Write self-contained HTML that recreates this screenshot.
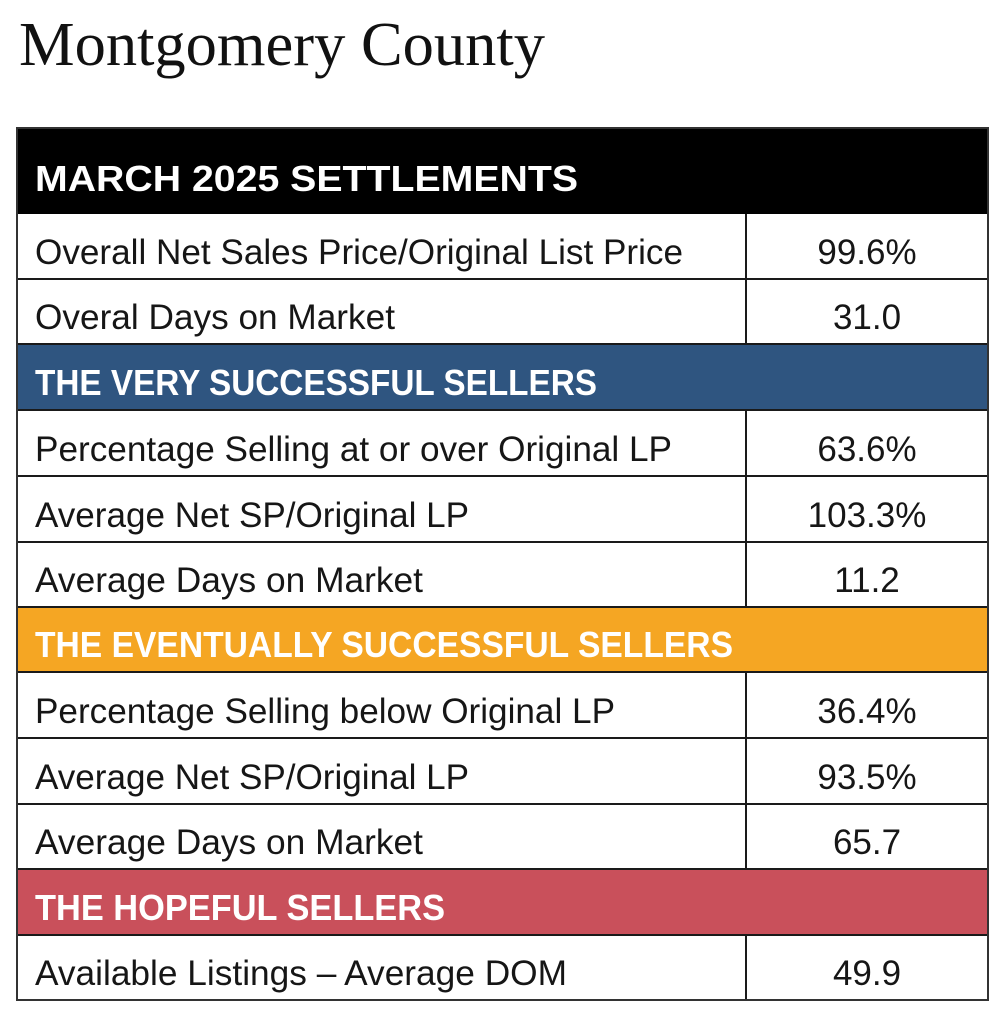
<!DOCTYPE html>
<html>
<head>
<meta charset="utf-8">
<style>
html,body{margin:0;padding:0;background:#fff;}
svg{display:block;}
.t{font-family:"Liberation Sans",Arial,sans-serif;font-size:35px;fill:#161616;}
.h{font-family:"Liberation Sans",Arial,sans-serif;font-size:36px;font-weight:bold;fill:#fff;}
.v{font-family:"Liberation Sans",Arial,sans-serif;font-size:35px;fill:#161616;text-anchor:middle;}
</style>
</head>
<body>
<svg width="1007" height="1024" viewBox="0 0 1007 1024" xmlns="http://www.w3.org/2000/svg">
<rect width="1007" height="1024" fill="#fff"/>
<text x="19" y="65" font-family="'Liberation Serif',Times,serif" font-size="62" fill="#111" textLength="526" lengthAdjust="spacingAndGlyphs">Montgomery County</text>

<!-- backgrounds -->
<rect x="17" y="128" width="971" height="86" fill="#000"/>
<rect x="17" y="344" width="971" height="66" fill="#2f5580"/>
<rect x="17" y="607" width="971" height="65" fill="#f5a623"/>
<rect x="17" y="869" width="971" height="66" fill="#c9505b"/>

<!-- horizontal lines -->
<g stroke="#1a1a1a" stroke-width="2">
<line x1="17" y1="279" x2="988" y2="279"/>
<line x1="17" y1="344" x2="988" y2="344"/>
<line x1="17" y1="410" x2="988" y2="410"/>
<line x1="17" y1="476" x2="988" y2="476"/>
<line x1="17" y1="542" x2="988" y2="542"/>
<line x1="17" y1="607" x2="988" y2="607"/>
<line x1="17" y1="672" x2="988" y2="672"/>
<line x1="17" y1="738" x2="988" y2="738"/>
<line x1="17" y1="804" x2="988" y2="804"/>
<line x1="17" y1="869" x2="988" y2="869"/>
<line x1="17" y1="935" x2="988" y2="935"/>
<!-- vertical divider -->
<line x1="746" y1="214" x2="746" y2="344"/>
<line x1="746" y1="410" x2="746" y2="607"/>
<line x1="746" y1="672" x2="746" y2="869"/>
<line x1="746" y1="935" x2="746" y2="1000"/>
</g>
<!-- outer border -->
<rect x="17" y="128" width="971" height="872" fill="none" stroke="#333" stroke-width="2"/>

<!-- headers -->
<text class="h" x="35" y="191" textLength="543" lengthAdjust="spacingAndGlyphs">MARCH 2025 SETTLEMENTS</text>
<text class="h" x="35" y="395" textLength="562" lengthAdjust="spacingAndGlyphs">THE VERY SUCCESSFUL SELLERS</text>
<text class="h" x="35" y="657" textLength="698" lengthAdjust="spacingAndGlyphs">THE EVENTUALLY SUCCESSFUL SELLERS</text>
<text class="h" x="35" y="920" textLength="410" lengthAdjust="spacingAndGlyphs">THE HOPEFUL SELLERS</text>

<!-- rows -->
<text class="t" x="35" y="264" textLength="648" lengthAdjust="spacingAndGlyphs">Overall Net Sales Price/Original List Price</text>
<text class="v" x="867" y="264">99.6%</text>

<text class="t" x="35" y="329" textLength="360" lengthAdjust="spacingAndGlyphs">Overal Days on Market</text>
<text class="v" x="867" y="329">31.0</text>

<text class="t" x="35" y="461" textLength="637" lengthAdjust="spacingAndGlyphs">Percentage Selling at or over Original LP</text>
<text class="v" x="867" y="461">63.6%</text>

<text class="t" x="35" y="527" textLength="434" lengthAdjust="spacingAndGlyphs">Average Net SP/Original LP</text>
<text class="v" x="867" y="527">103.3%</text>

<text class="t" x="35" y="592" textLength="388" lengthAdjust="spacingAndGlyphs">Average Days on Market</text>
<text class="v" x="867" y="592">11.2</text>

<text class="t" x="35" y="723" textLength="580" lengthAdjust="spacingAndGlyphs">Percentage Selling below Original LP</text>
<text class="v" x="867" y="723">36.4%</text>

<text class="t" x="35" y="789" textLength="434" lengthAdjust="spacingAndGlyphs">Average Net SP/Original LP</text>
<text class="v" x="867" y="789">93.5%</text>

<text class="t" x="35" y="854" textLength="388" lengthAdjust="spacingAndGlyphs">Average Days on Market</text>
<text class="v" x="867" y="854">65.7</text>

<text class="t" x="35" y="985" textLength="532" lengthAdjust="spacingAndGlyphs">Available Listings – Average DOM</text>
<text class="v" x="867" y="985">49.9</text>
</svg>
</body>
</html>
